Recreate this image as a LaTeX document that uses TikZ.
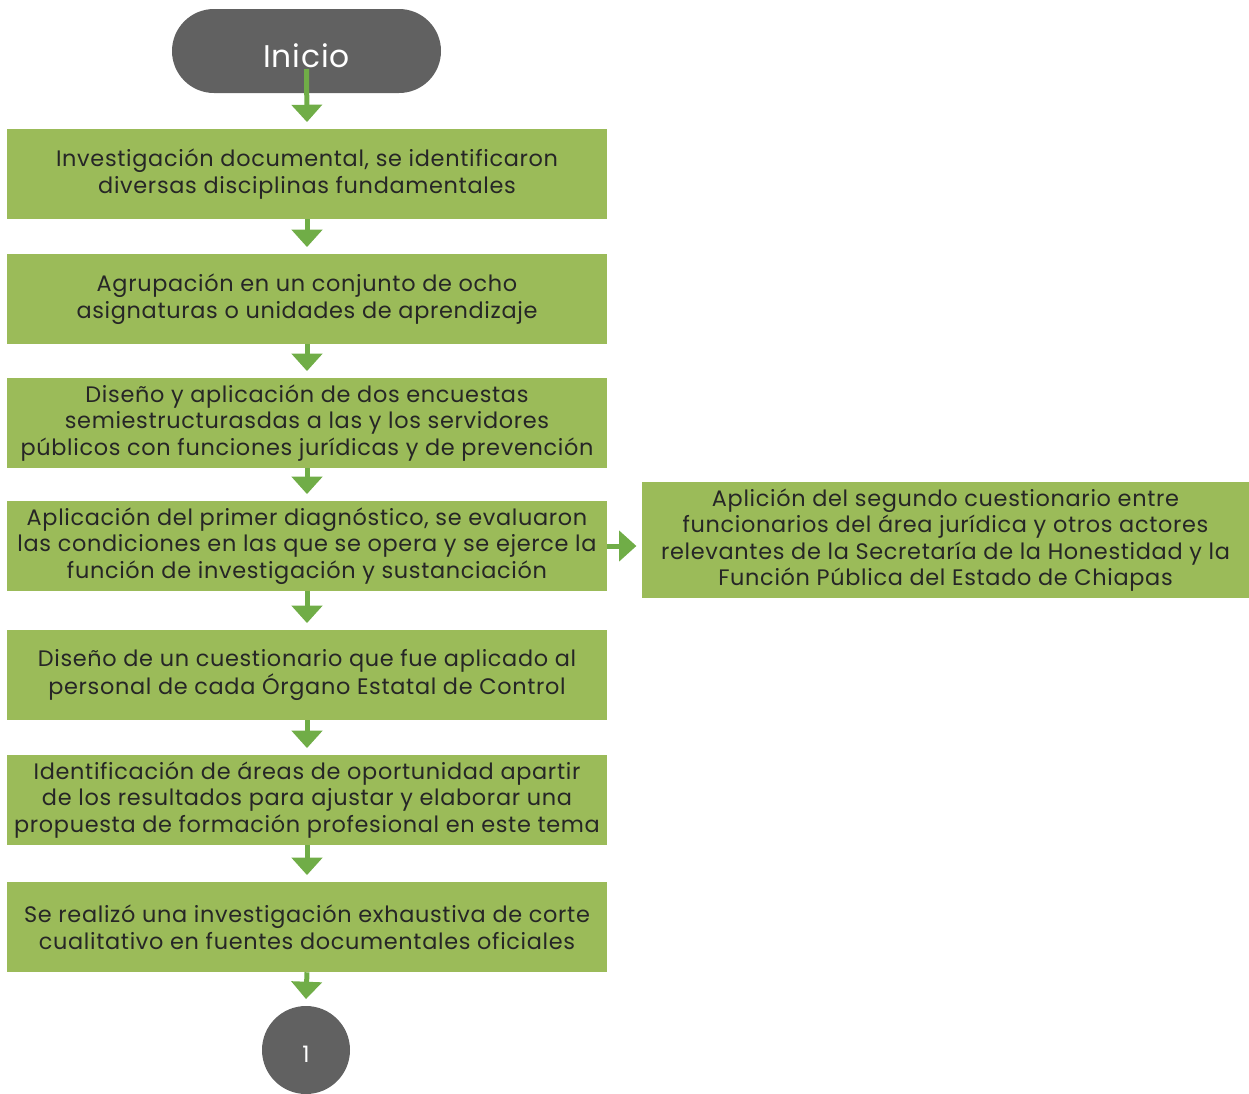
\documentclass[tikz,border=0pt]{standalone}
\usepackage{fontspec}
\setmainfont{Poppins}[LetterSpace=3]
\usetikzlibrary{arrows.meta}
\definecolor{verde}{HTML}{9BBB59}
\definecolor{flechaverde}{HTML}{70AD47}
\definecolor{gris}{HTML}{616161}
\definecolor{texto}{HTML}{262626}
\tikzset{
  paso/.style={fill=verde,minimum width=450pt,minimum height=67.5pt,align=center,
    text=texto,font=\fontsize{16.8}{19.9}\selectfont,inner sep=0pt},
  flecha/.style={line width=3.75pt,color=flechaverde,-{Triangle[width=22.5pt,length=13pt]}}
}
\begin{document}
\begin{tikzpicture}[x=0.75pt,y=-0.75pt,line cap=butt,line join=miter]
\useasboundingbox (0,0) rectangle (1249,1093);

% inicio y fin
\node[fill=gris,rounded corners=31.5pt,minimum width=201.75pt,minimum height=63pt,
  text=white,font=\fontsize{23.5}{26}\selectfont,text height=24pt,text depth=0pt] (inicio) at (306.5,51) {Inicio};
\node[fill=gris,circle,minimum size=66pt,text=white,inner sep=0pt,
  font=\fontsize{17}{19}\selectfont,text height=19pt,text depth=0pt] (fin) at (306,1050) {1};

% pasos
\node[paso] (b1) at (307,174) {Investigación documental, se identificaron\\diversas disciplinas fundamentales};
\node[paso] (b2) at (307,299) {Agrupación en un conjunto de ocho\\asignaturas o unidades de aprendizaje};
\node[paso] (b3) at (307,423) {Diseño y aplicación de dos encuestas\\semiestructurasdas a las y los servidores\\públicos con funciones jurídicas y de prevención};
\node[paso] (b4) at (307,546) {Aplicación del primer diagnóstico, se evaluaron\\las condiciones en las que se opera y se ejerce la\\función de investigación y sustanciación};
\node[paso] (b5) at (307,675) {Diseño de un cuestionario que fue aplicado al\\personal de cada Órgano Estatal de Control};
\node[paso] (b6) at (307,800) {Identificación de áreas de oportunidad apartir\\de los resultados para ajustar y elaborar una\\propuesta de formación profesional en este tema};
\node[paso] (b7) at (307,927) {Se realizó una investigación exhaustiva de corte\\cualitativo en fuentes documentales oficiales};
\node[paso,minimum width=455.25pt,minimum height=87pt] (lado) at (945.5,540)
  {Aplición del segundo cuestionario entre\\funcionarios del área jurídica y otros actores\\relevantes de la Secretaría de la Honestidad y la\\Función Pública del Estado de Chiapas};

% flechas
\coordinate (arranque) at (306.5,69);
\draw[flecha] (arranque) -- ([yshift=5pt]b1.north);
\draw[flecha] (b1.south) -- ([yshift=5pt]b2.north);
\draw[flecha] (b2.south) -- ([yshift=5pt]b3.north);
\draw[flecha] (b3.south) -- ([yshift=5pt]b4.north);
\draw[flecha] (b4.south) -- ([yshift=5pt]b5.north);
\draw[flecha] (b5.south) -- ([yshift=5pt]b6.north);
\draw[flecha] (b6.south) -- ([yshift=5pt]b7.north);
\draw[flecha] (b7.south) -- ([yshift=5pt]fin.north);
\draw[flecha] (b4.east) -- ([xshift=-4pt]lado.west |- b4.east);
\end{tikzpicture}
\end{document}
